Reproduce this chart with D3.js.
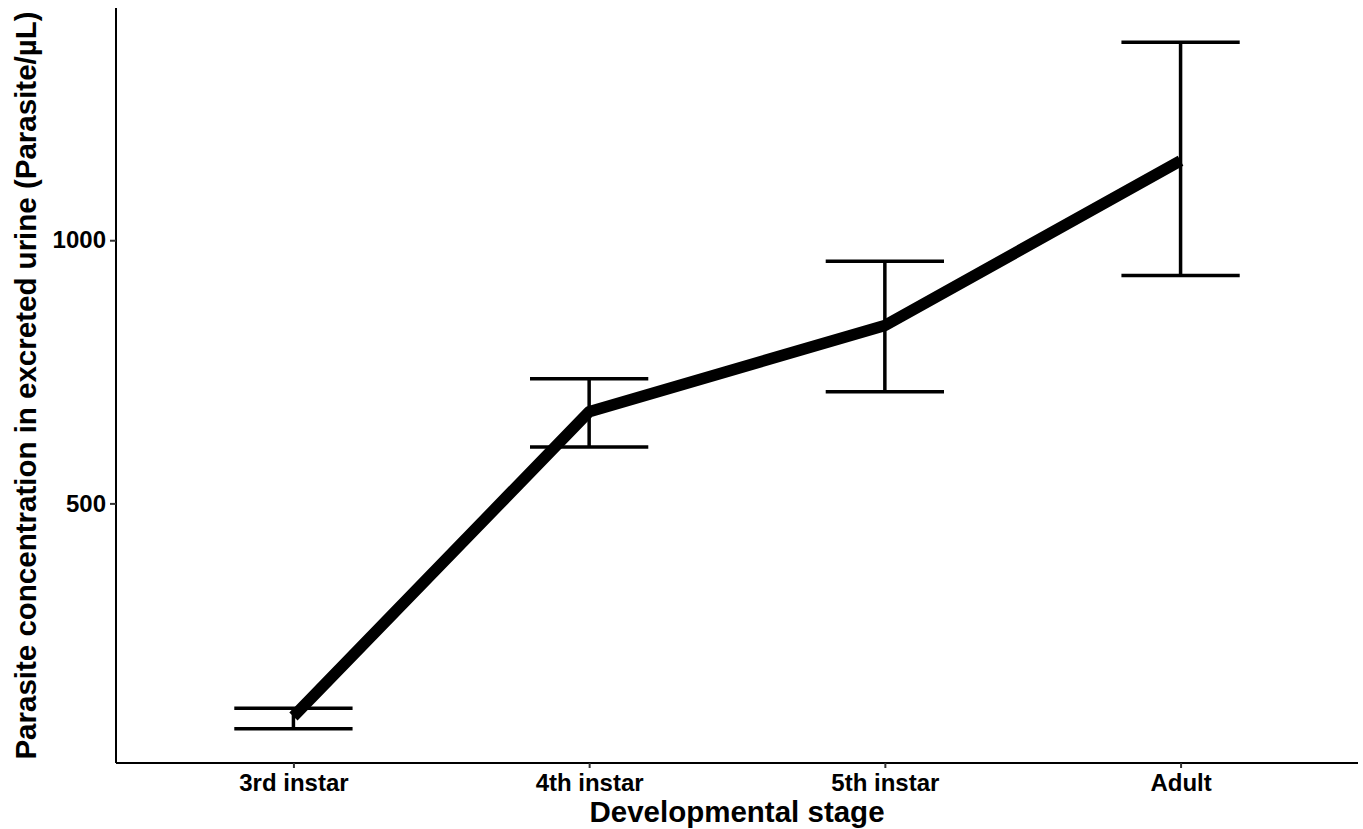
<!DOCTYPE html>
<html>
<head>
    <title>Parasite concentration</title>
    <script src="https://d3js.org/d3.v7.min.js"></script>
    <style>
        body { margin: 0; background: white; }
        svg text { font-family: "Liberation Sans", Arial, sans-serif; font-weight: bold; fill: black; }
    </style>
</head>
<body>
<div id="chart"></div>
<script>
// data
var stages = ["3rd instar", "4th instar", "5th instar", "Adult"];
var means = [95, 674, 838, 1151];
var lower = [72, 607, 712, 933];
var upper = [111, 737, 960, 1376];
var yTicks = [500, 1000];

var width = 1363, height = 829;
var margin = { top: 8, right: 5, bottom: 66, left: 116 };

var svg = d3.select("#chart")
    .append("svg")
    .attr("width", width)
    .attr("height", height);

// discrete scale with ggplot-like 0.6 expansion
var x = d3.scalePoint()
    .domain(stages)
    .range([margin.left, width - margin.right])
    .padding(0.6);

// continuous scale, 5% expansion of the data range
var lo = d3.min(lower), hi = d3.max(upper);
var pad = (hi - lo) * 0.05;
var y = d3.scaleLinear()
    .domain([lo - pad, hi + pad])
    .range([height - margin.bottom, margin.top]);

var data = stages.map(function(s, i) {
    return { stage: s, mean: means[i], lo: lower[i], hi: upper[i] };
});

var capHalf = x.step() * 0.2;

// error bars
var eb = svg.append("g").attr("stroke", "black").attr("stroke-width", 3.5).attr("fill", "none");
eb.selectAll(".stem").data(data).enter().append("line")
    .attr("x1", function(d) { return x(d.stage); })
    .attr("x2", function(d) { return x(d.stage); })
    .attr("y1", function(d) { return y(d.lo); })
    .attr("y2", function(d) { return y(d.hi); });
eb.selectAll(".capTop").data(data).enter().append("line")
    .attr("x1", function(d) { return x(d.stage) - capHalf; })
    .attr("x2", function(d) { return x(d.stage) + capHalf; })
    .attr("y1", function(d) { return y(d.hi); })
    .attr("y2", function(d) { return y(d.hi); });
eb.selectAll(".capBot").data(data).enter().append("line")
    .attr("x1", function(d) { return x(d.stage) - capHalf; })
    .attr("x2", function(d) { return x(d.stage) + capHalf; })
    .attr("y1", function(d) { return y(d.lo); })
    .attr("y2", function(d) { return y(d.lo); });

// mean line
var line = d3.line()
    .x(function(d) { return x(d.stage); })
    .y(function(d) { return y(d.mean); });

svg.append("path")
    .datum(data)
    .attr("d", line)
    .attr("fill", "none")
    .attr("stroke", "black")
    .attr("stroke-width", 11.5)
    .attr("stroke-linejoin", "round")
    .attr("stroke-linecap", "butt");

// axes
var xAxis = svg.append("g")
    .attr("transform", "translate(0," + (height - margin.bottom) + ")")
    .call(d3.axisBottom(x).tickSizeOuter(0).tickSize(5).tickPadding(6));
xAxis.select(".domain").attr("stroke", "black").attr("stroke-width", 2)
    .attr("d", "M" + margin.left + ",0H" + (width - margin.right));
xAxis.selectAll(".tick line").attr("stroke", "#333").attr("stroke-width", 2);
xAxis.selectAll(".tick text").style("font-size", "24px").attr("fill", "black");

var yAxis = svg.append("g")
    .attr("transform", "translate(" + margin.left + ",0)")
    .call(d3.axisLeft(y).tickValues(yTicks).tickFormat(d3.format("d"))
        .tickSizeOuter(0).tickSize(6).tickPadding(4));
yAxis.select(".domain").attr("stroke", "black").attr("stroke-width", 2)
    .attr("d", "M0," + margin.top + "V" + (height - margin.bottom));
yAxis.selectAll(".tick line").attr("stroke", "#333").attr("stroke-width", 2);
yAxis.selectAll(".tick text").style("font-size", "24px").attr("fill", "black");

// titles
svg.append("text")
    .attr("x", (margin.left + width - margin.right) / 2)
    .attr("y", 822)
    .attr("text-anchor", "middle")
    .style("font-size", "29.5px")
    .text("Developmental stage");

svg.append("text")
    .attr("transform", "translate(36," + ((margin.top + height - margin.bottom) / 2) + ") rotate(-90)")
    .attr("text-anchor", "middle")
    .style("font-size", "29.5px")
    .text("Parasite concentration in excreted urine (Parasite/\u00b5L)");
</script>
</body>
</html>
